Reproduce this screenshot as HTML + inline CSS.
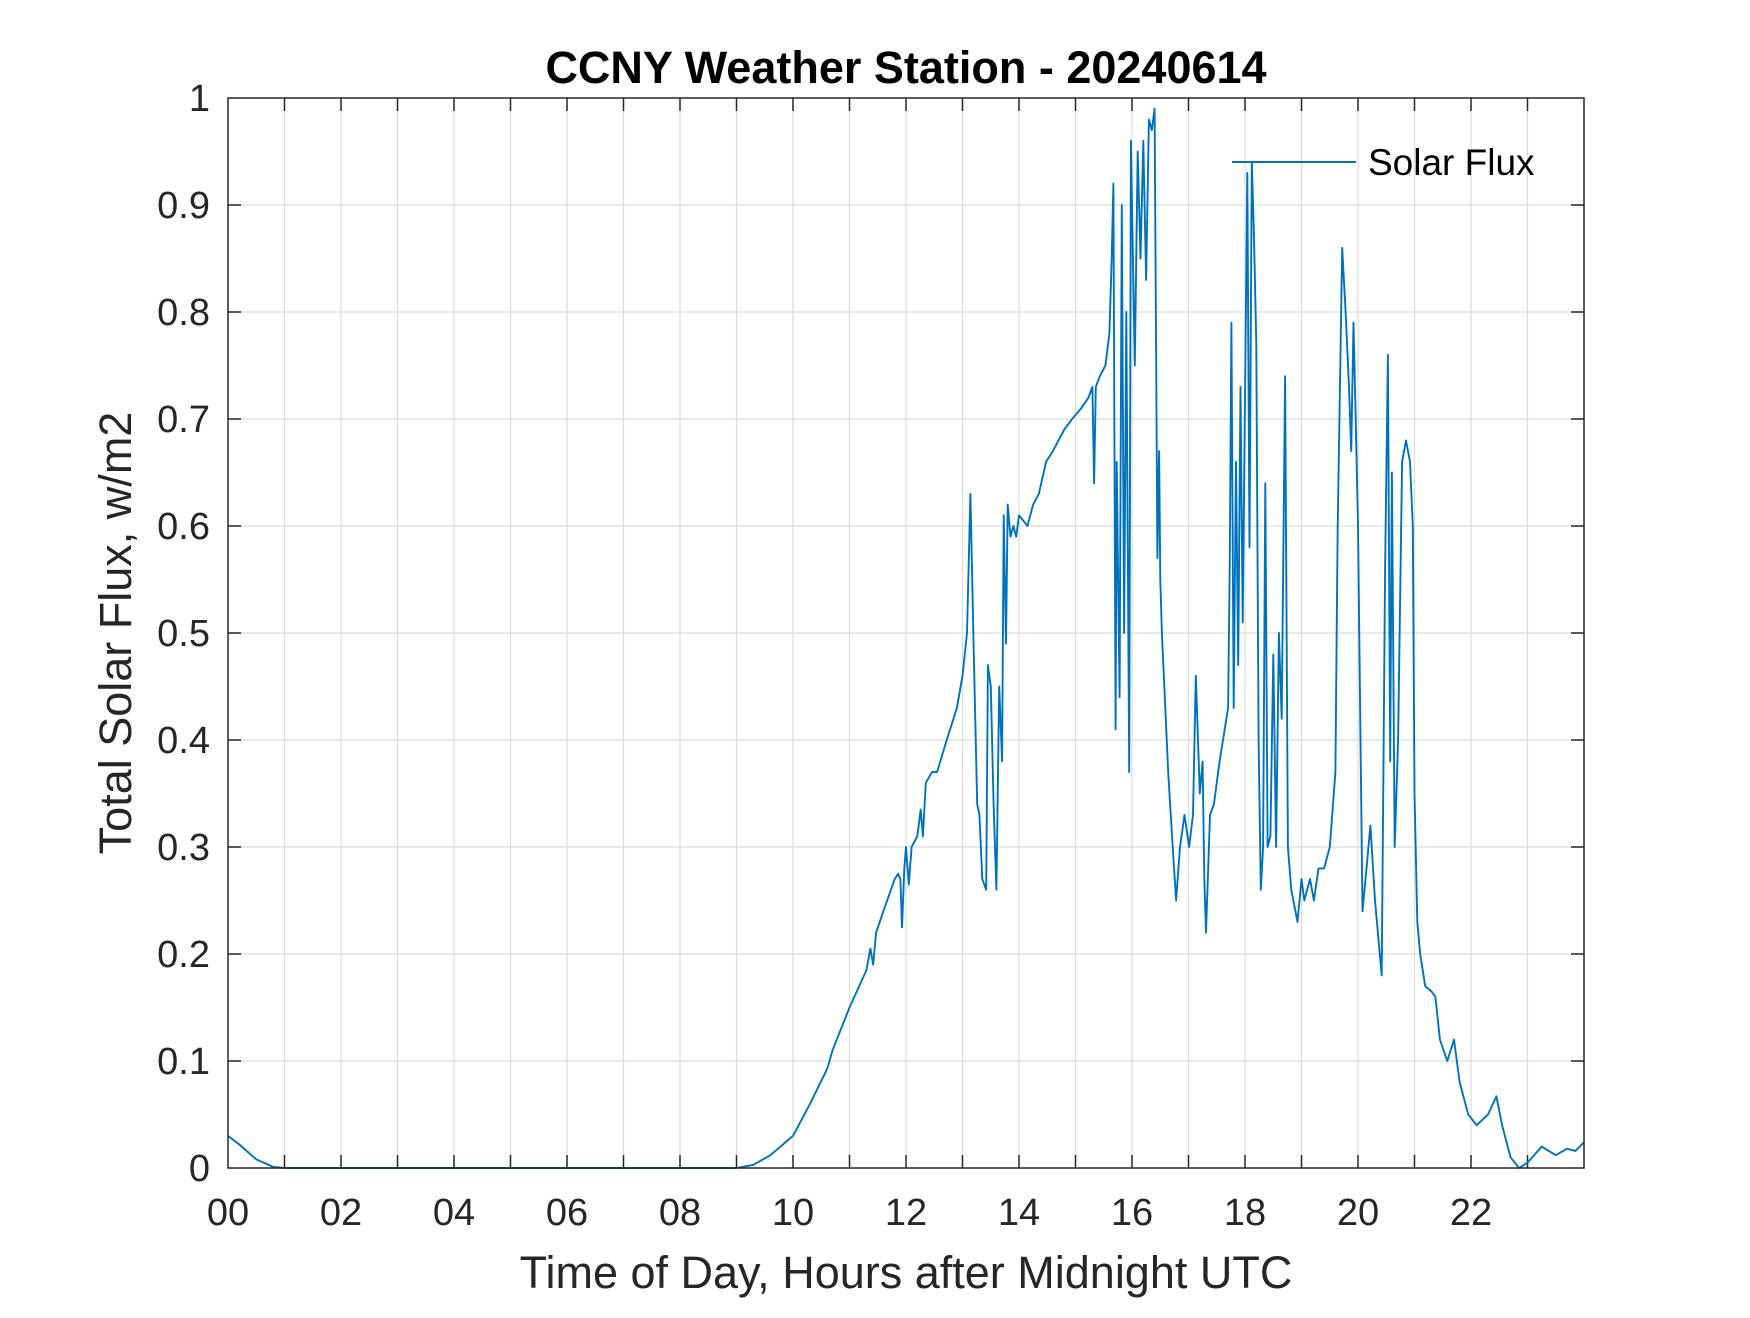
<!DOCTYPE html>
<html><head><meta charset="utf-8"><style>
body{margin:0;background:#fff}
svg text{font-family:"Liberation Sans",sans-serif;fill:#262626}
</style></head><body>
<svg id="chart" width="1750" height="1313" xmlns="http://www.w3.org/2000/svg">
<rect width="1750" height="1313" fill="#fff"/>
<g id="grid"></g>
<g id="ticks"></g>
<path id="series" fill="none" stroke="#0072BD" stroke-width="1.9" stroke-linejoin="round"/>
<rect x="228" y="98" width="1356" height="1070" fill="none" stroke="#262626" stroke-width="1.5"/>
<text x="906" y="83" text-anchor="middle" font-size="45" font-weight="bold" style="fill:#000">CCNY Weather Station - 20240614</text>
<text x="906" y="1288" text-anchor="middle" font-size="45">Time of Day, Hours after Midnight UTC</text>
<text transform="translate(131,633) rotate(-90)" text-anchor="middle" font-size="45">Total Solar Flux, w/m2</text>
<g>
<line x1="1232" y1="162" x2="1356" y2="162" stroke="#0072BD" stroke-width="1.9"/>
<text x="1368" y="175" font-size="37" style="fill:#000">Solar Flux</text>
</g>
</svg>
<script>
const hours = [
0,0.2,0.5,0.8,1.0,9.0,9.3,9.6,10.0,10.3,
10.58,10.62,10.7,11.0,11.3,11.37,11.42,11.47,11.6,11.8,
11.86,11.9,11.93,11.97,12.0,12.05,12.1,12.2,12.26,12.3,
12.35,12.46,12.55,12.72,12.9,13.0,13.08,13.14,13.2,13.26,
13.3,13.35,13.42,13.45,13.5,13.55,13.6,13.65,13.7,13.73,
13.77,13.8,13.85,13.9,13.95,14.0,14.15,14.25,14.35,14.48,
14.6,14.8,14.94,15.1,15.23,15.3,15.33,15.36,15.43,15.53,
15.6,15.64,15.67,15.71,15.73,15.78,15.82,15.86,15.9,15.95,
15.98,16.05,16.1,16.15,16.2,16.25,16.3,16.35,16.4,16.45,
16.48,16.5,16.53,16.64,16.72,16.78,16.85,16.93,17.01,17.08,
17.13,17.2,17.25,17.28,17.31,17.38,17.45,17.55,17.7,17.73,
17.76,17.8,17.84,17.88,17.92,17.96,18.04,18.08,18.12,18.16,
18.2,18.24,18.28,18.32,18.36,18.4,18.45,18.5,18.55,18.6,
18.65,18.71,18.76,18.82,18.93,19.0,19.05,19.15,19.22,19.3,
19.4,19.5,19.6,19.64,19.72,19.78,19.84,19.88,19.92,19.96,
20.0,20.08,20.15,20.22,20.3,20.42,20.48,20.53,20.57,20.6,
20.65,20.71,20.78,20.85,20.92,20.97,21.0,21.05,21.1,21.19,
21.3,21.37,21.45,21.58,21.7,21.8,21.95,22.1,22.2,22.3,
22.45,22.55,22.7,22.85,23.0,23.25,23.5,23.7,23.85,24];
const flux = [
.03,.022,.008,.001,0,0,.003,.012,.03,.06,
.09,.095,.11,.15,.185,.205,.19,.22,.24,.27,
.275,.27,.225,.28,.3,.265,.3,.31,.335,.31,
.36,.37,.37,.4,.43,.46,.5,.63,.48,.34,
.33,.27,.26,.47,.45,.34,.26,.45,.38,.61,
.49,.62,.59,.6,.59,.61,.6,.62,.63,.66,
.67,.69,.70,.71,.72,.73,.64,.73,.74,.75,
.78,.85,.92,.41,.66,.44,.9,.5,.8,.37,
.96,.75,.95,.85,.96,.83,.98,.97,.99,.57,
.67,.55,.5,.37,.3,.25,.3,.33,.3,.33,
.46,.35,.38,.27,.22,.33,.34,.38,.43,.56,
.79,.43,.66,.47,.73,.51,.93,.58,.94,.87,
.77,.4,.26,.3,.64,.3,.31,.48,.3,.5,
.42,.74,.3,.26,.23,.27,.25,.27,.25,.28,
.28,.3,.37,.6,.86,.8,.73,.67,.79,.7,
.6,.24,.28,.32,.25,.18,.56,.76,.38,.65,
.3,.4,.66,.68,.66,.6,.35,.23,.2,.17,
.165,.16,.12,.1,.12,.08,.05,.04,.045,.05,
.067,.04,.01,0,.005,.02,.012,.018,.016,.024];
const xTicks = ["00","02","04","06","08","10","12","14","16","18","20","22"];
const yTicks = ["0","0.1","0.2","0.3","0.4","0.5","0.6","0.7","0.8","0.9","1"];
const L=228,R=1584,T=98,B=1168;
const xs = h => L + (R-L)*h/24;
const ys = v => B - (B-T)*v;
const NS="http://www.w3.org/2000/svg";
const grid=document.getElementById('grid'), tk=document.getElementById('ticks');
function mk(tag,attrs,parent){const e=document.createElementNS(NS,tag);for(const k in attrs)e.setAttribute(k,attrs[k]);parent.appendChild(e);return e;}
for(let h=1;h<24;h++){
  const x=xs(h);
  const g=mk('line',{x1:x,y1:T,x2:x,y2:B,stroke:'#dcdcdc','stroke-width':1.2},grid);
  
  
  const t1=mk('line',{x1:x,y1:B,x2:x,y2:B-13,stroke:'#262626','stroke-width':1.5},tk);
  
  
  const t2=mk('line',{x1:x,y1:T,x2:x,y2:T+13,stroke:'#262626','stroke-width':1.5},tk);
  
  
}
xTicks.forEach((s,i)=>{
  const t=mk('text',{x:xs(i*2),y:1225,'text-anchor':'middle','font-size':38},tk);
  t.textContent=s;
  
  
});
yTicks.forEach((s,i)=>{
  const v=i/10,y=ys(v);
  if(i>0&&i<10){
    const g=mk('line',{x1:L,y1:y,x2:R,y2:y,stroke:'#dcdcdc','stroke-width':1.2},grid);
    
    
    const a=mk('line',{x1:L,y1:y,x2:L+13,y2:y,stroke:'#262626','stroke-width':1.5},tk);
    
    
    const b=mk('line',{x1:R,y1:y,x2:R-13,y2:y,stroke:'#262626','stroke-width':1.5},tk);
    
    
  }
  const t=mk('text',{x:210,y:y+13,'text-anchor':'end','font-size':38},tk);
  t.textContent=s;
  
  
});
let d='';
hours.forEach((h,i)=>{d+=(i?'L':'M')+xs(h).toFixed(1)+','+ys(flux[i]).toFixed(1);});
document.getElementById('series').setAttribute('d',d);
</script>
</body></html>
